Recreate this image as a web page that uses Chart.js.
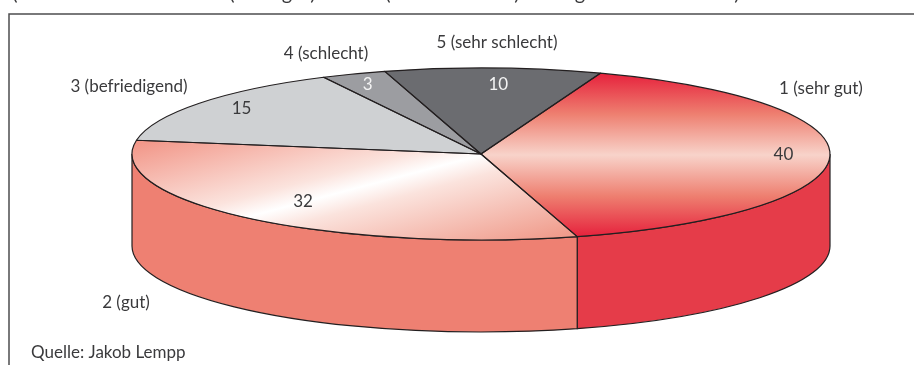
<!DOCTYPE html>
<html lang="de">
<head>
<meta charset="utf-8">
<title>Bewertung</title>
<style>
  html, body { margin: 0; padding: 0; background: #fff; overflow: hidden; }
  canvas { display: block; }
</style>
<script src="https://cdn.jsdelivr.net/npm/chart.js@4/dist/chart.umd.js"></script>
</head>
<body>
<canvas id="pie" width="914" height="365"></canvas>
<script>
const categories = ["1 (sehr gut)", "2 (gut)", "3 (befriedigend)", "4 (schlecht)", "5 (sehr schlecht)"];
const values = [40, 32, 15, 3, 10];
const wallColors = ["#e53c49", "#ee8072"];
const sourceText = "Quelle: Jakob Lempp";
// what is left of the heading line above the frame: only descenders stay inside the page
const headingTails = [["(", 15], ["(", 232], ["g", 287], [")", 313], ["(", 388], [")", 517], ["g", 580], [")", 737]];

const FONT = "17px Lato, sans-serif";
const TEXT = "#3a3a3c";

// disc geometry: radius in px, vertical squash of the top face, depth of the side wall
const RADIUS = 349;
const TILT = 0.2464;
const DEPTH = 92;
const CENTER_Y = 154;

const canvas = document.getElementById("pie");
const ctx = canvas.getContext("2d");

// the top face is filled under a squashed transform, so gradients are given in unsquashed y
const toDisk = (y) => CENTER_Y + (y - CENTER_Y) / TILT;

function redFill() {
  const g = ctx.createLinearGradient(0, toDisk(73), 0, toDisk(237));
  g.addColorStop(0, "#e6213c");
  g.addColorStop(0.25, "#ee7f70");
  g.addColorStop(0.5, "#f8d3ca");
  g.addColorStop(0.75, "#ee7f70");
  g.addColorStop(1, "#e6213c");
  return g;
}

function coralFill() {
  const g = ctx.createLinearGradient(135, toDisk(145), 547, toDisk(145) + 383);
  g.addColorStop(0, "#f2988a");
  g.addColorStop(0.4, "#fbe3dd");
  g.addColorStop(0.5, "#ffffff");
  g.addColorStop(0.6, "#fbe3dd");
  g.addColorStop(1, "#f09c8c");
  return g;
}

const topColors = [redFill(), coralFill(), "#cfd1d3", "#9c9da1", "#6b6c70"];

// outer captions sit by hand around the disc, [x, y] of the text centre
const captionSpots = [[821, 89], [126, 303], [129, 87], [326, 54], [497, 43]];
// small per-slice shifts of the value labels away from the ring position
const valueNudges = [[6, -2], [19, -7], [0, -2], [-5, -1], [7, 4]];
const valueColors = [TEXT, TEXT, TEXT, "#f4f4f4", "#f4f4f4"];

const discPlugin = {
  id: "disc",
  beforeDraw(chart) {
    const c = chart.ctx;
    c.save();
    c.fillStyle = "#fff";
    c.fillRect(0, 0, chart.width, chart.height);
    // frame runs off the right and bottom edge
    c.strokeStyle = "#4d4d4f";
    c.lineWidth = 1.5;
    c.beginPath();
    c.moveTo(9, chart.height);
    c.lineTo(9, 14);
    c.lineTo(chart.width, 14);
    c.stroke();
    c.restore();
  },
  beforeDatasetsDraw(chart) {
    const c = chart.ctx;
    const arcs = chart.getDatasetMeta(0).data;
    const { x, y } = arcs[0];
    // side wall, only the part of each slice on the front half
    c.save();
    c.strokeStyle = "#231f20";
    c.lineWidth = 1.2;
    arcs.forEach((arc, i) => {
      const a0 = Math.max(arc.startAngle, 0);
      const a1 = Math.min(arc.endAngle, Math.PI);
      if (a1 <= a0) return;
      c.beginPath();
      c.ellipse(x, y, arc.outerRadius, arc.outerRadius * TILT, 0, a0, a1);
      c.ellipse(x, y + DEPTH, arc.outerRadius, arc.outerRadius * TILT, 0, a1, a0, true);
      c.closePath();
      c.fillStyle = wallColors[i];
      c.fill();
      c.stroke();
    });
    c.restore();
    c.save();
    c.translate(x, y);
    c.scale(1, TILT);
    c.translate(-x, -y);
  },
  afterDatasetsDraw(chart) {
    const c = chart.ctx;
    c.restore();
    // outlines are stroked unsquashed so the line weight stays even
    c.save();
    c.strokeStyle = "#231f20";
    c.lineWidth = 1.2;
    c.lineJoin = "round";
    chart.getDatasetMeta(0).data.forEach((arc) => {
      const rx = arc.outerRadius;
      const ry = rx * TILT;
      c.beginPath();
      c.moveTo(arc.x, arc.y);
      c.ellipse(arc.x, arc.y, rx, ry, 0, arc.startAngle, arc.endAngle);
      c.closePath();
      c.stroke();
    });
    c.restore();
  },
  afterDraw(chart) {
    const c = chart.ctx;
    c.save();
    c.font = "20px Lato, sans-serif";
    c.textAlign = "center";
    c.fillStyle = TEXT;
    headingTails.forEach(([glyph, x]) => c.fillText(glyph, x, 0));
    c.font = FONT;
    c.textBaseline = "middle";
    categories.forEach((name, i) => {
      c.fillText(name, captionSpots[i][0], captionSpots[i][1]);
    });
    chart.getDatasetMeta(0).data.forEach((arc, i) => {
      const mid = (arc.startAngle + arc.endAngle) / 2;
      const lx = arc.x + Math.cos(mid) * arc.outerRadius * 0.85 + valueNudges[i][0];
      const ly = arc.y + Math.sin(mid) * arc.outerRadius * TILT * 0.85 + valueNudges[i][1];
      c.fillStyle = valueColors[i];
      c.fillText(String(values[i]), lx, ly);
    });
    c.fillStyle = TEXT;
    c.textAlign = "left";
    c.fillText(sourceText, 31, 353);
    c.restore();
  },
};

new Chart(ctx, {
  type: "pie",
  data: {
    labels: categories,
    datasets: [
      {
        data: values,
        backgroundColor: topColors,
        borderWidth: 0,
        clip: false,
      },
    ],
  },
  options: {
    responsive: false,
    animation: false,
    rotation: 20,
    radius: RADIUS,
    layout: { padding: { left: 48, bottom: 57 } }, // puts the centre at 481, 154
    plugins: {
      legend: { display: false },
      tooltip: { enabled: false },
    },
  },
  plugins: [discPlugin],
});
</script>
</body>
</html>
